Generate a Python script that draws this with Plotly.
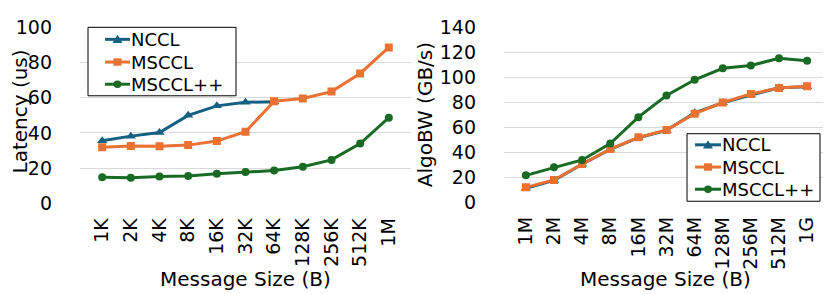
import plotly.graph_objects as go

lat_sizes = ["1K", "2K", "4K", "8K", "16K", "32K", "64K", "128K", "256K", "512K", "1M"]
lat_nccl = [35.6, 38.2, 40.3, 50.0, 55.4, 57.4, 57.8, None, None, None, None]
lat_msccl = [31.9, 32.6, 32.4, 33.1, 35.4, 40.7, 58.0, 59.6, 63.5, 73.8, 88.6]
lat_mscclpp = [14.9, 14.5, 15.3, 15.5, 16.8, 17.9, 18.7, 20.8, 24.7, 34.0, 48.7]

bw_sizes = ["1M", "2M", "4M", "8M", "16M", "32M", "64M", "128M", "256M", "512M", "1G"]
bw_nccl = [11.2, 17.4, 30.4, 42.3, 51.6, 57.5, 71.6, 79.6, 85.8, 91.6, 92.5]
bw_msccl = [11.9, 17.8, 30.6, 42.5, 51.9, 57.8, 70.9, 79.8, 86.7, 91.4, 92.8]
bw_mscclpp = [21.5, 27.9, 33.8, 46.9, 68.1, 85.4, 98.0, 107.2, 109.4, 115.3, 113.3]

names = ["NCCL", "MSCCL", "MSCCL++"]
colors = ["#156082", "#E97132", "#196B24"]
symbols = ["triangle-up", "square", "circle"]
msizes = [9, 8, 8]

FONT = "DejaVu Sans, sans-serif"
W, H = 831, 294

fig = go.Figure()
for i, ys in enumerate([lat_nccl, lat_msccl, lat_mscclpp]):
    fig.add_trace(go.Scatter(
        x=lat_sizes, y=ys, name=names[i], mode="lines+markers",
        line=dict(color=colors[i], width=3),
        marker=dict(symbol=symbols[i], size=msizes[i], color=colors[i]),
        xaxis="x", yaxis="y", showlegend=False, connectgaps=False))
for i, ys in enumerate([bw_nccl, bw_msccl, bw_mscclpp]):
    fig.add_trace(go.Scatter(
        x=bw_sizes, y=ys, name=names[i], mode="lines+markers",
        line=dict(color=colors[i], width=3),
        marker=dict(symbol=symbols[i], size=msizes[i], color=colors[i]),
        xaxis="x2", yaxis="y2", showlegend=False))


def px_x(p):
    return p / W


def px_y(p):
    return (H - p) / H


tickfont = dict(family=FONT, size=19, color="#000000")
axis_common = dict(showline=False, zeroline=False, ticks="", color="#000000",
                   ticklabeloverflow="allow")

fig.update_layout(
    width=W, height=H,
    margin=dict(l=0, r=0, t=0, b=0),
    paper_bgcolor="white", plot_bgcolor="white",
    font=dict(family=FONT, size=19, color="#000000"),
    showlegend=False,
    xaxis=dict(domain=[px_x(72), px_x(403)], anchor="y", type="category",
               tickangle=-90, tickfont=tickfont, showgrid=False,
               ticklabelstandoff=10, **axis_common),
    yaxis=dict(domain=[px_y(199.3), px_y(9)], anchor="x", range=[0, 100.01],
               dtick=20, tickfont=tickfont, showgrid=True, gridcolor="#D9D9D9",
               gridwidth=1, ticklabelstandoff=27, **axis_common),
    xaxis2=dict(domain=[px_x(496), px_x(821)], anchor="y2", type="category",
                tickangle=-90, tickfont=tickfont, showgrid=False,
                ticklabelstandoff=10, **axis_common),
    yaxis2=dict(domain=[px_y(198), px_y(9)], anchor="x2", range=[0, 140.01],
                dtick=20, tickfont=tickfont, showgrid=True, gridcolor="#D9D9D9",
                gridwidth=1, ticklabelstandoff=27, **axis_common),
)

# axis titles
annots = [
    dict(text="Latency (us)", x=px_x(12), y=px_y(100), textangle=-90),
    dict(text="AlgoBW (GB/s)", x=px_x(417), y=px_y(104), textangle=-90),
    dict(text="Message Size (B)", x=px_x(237), y=px_y(281), textangle=0),
    dict(text="Message Size (B)", x=px_x(657), y=px_y(281), textangle=0),
]
for a in annots:
    fig.add_annotation(xref="paper", yref="paper", showarrow=False,
                       xanchor="center", yanchor="middle",
                       font=dict(family=FONT, size=20, color="#000000"), **a)


# legend boxes (layout elements, in pixel positions of the page)
def add_legend(box, line_x0, line_x1, text_x, rows):
    x0, y0, x1, y1 = box
    fig.add_shape(type="rect", xref="paper", yref="paper",
                  x0=px_x(x0), x1=px_x(x1), y0=px_y(y1), y1=px_y(y0),
                  line=dict(color="#000000", width=1), fillcolor="white",
                  layer="above")
    for i, yc in enumerate(rows):
        fig.add_shape(type="line", xref="paper", yref="paper",
                      x0=px_x(line_x0), x1=px_x(line_x1), y0=px_y(yc), y1=px_y(yc),
                      line=dict(color=colors[i], width=3), layer="above")
        cx = (line_x0 + line_x1) / 2
        r = 4
        if symbols[i] == "square":
            fig.add_shape(type="rect", xref="paper", yref="paper",
                          x0=px_x(cx - r), x1=px_x(cx + r),
                          y0=px_y(yc + r), y1=px_y(yc - r),
                          line=dict(width=0), fillcolor=colors[i], layer="above")
        elif symbols[i] == "circle":
            fig.add_shape(type="circle", xref="paper", yref="paper",
                          x0=px_x(cx - r), x1=px_x(cx + r),
                          y0=px_y(yc + r), y1=px_y(yc - r),
                          line=dict(width=0), fillcolor=colors[i], layer="above")
        else:
            path = "M {:.5f},{:.5f} L {:.5f},{:.5f} L {:.5f},{:.5f} Z".format(
                px_x(cx - 5), px_y(yc + 4), px_x(cx + 5), px_y(yc + 4),
                px_x(cx), px_y(yc - 5))
            fig.add_shape(type="path", xref="paper", yref="paper", path=path,
                          line=dict(width=0), fillcolor=colors[i], layer="above")
        fig.add_annotation(xref="paper", yref="paper", showarrow=False,
                           x=px_x(text_x), y=px_y(yc), xanchor="left",
                           yanchor="middle", text=names[i],
                           font=dict(family=FONT, size=18, color="#000000"))


add_legend((80, 9, 228, 83), 97, 122, 121, [22, 46.5, 70.5])
add_legend((679, 124, 812, 197), 687, 713, 712, [136, 160, 184])

fig.write_html("out.html")
